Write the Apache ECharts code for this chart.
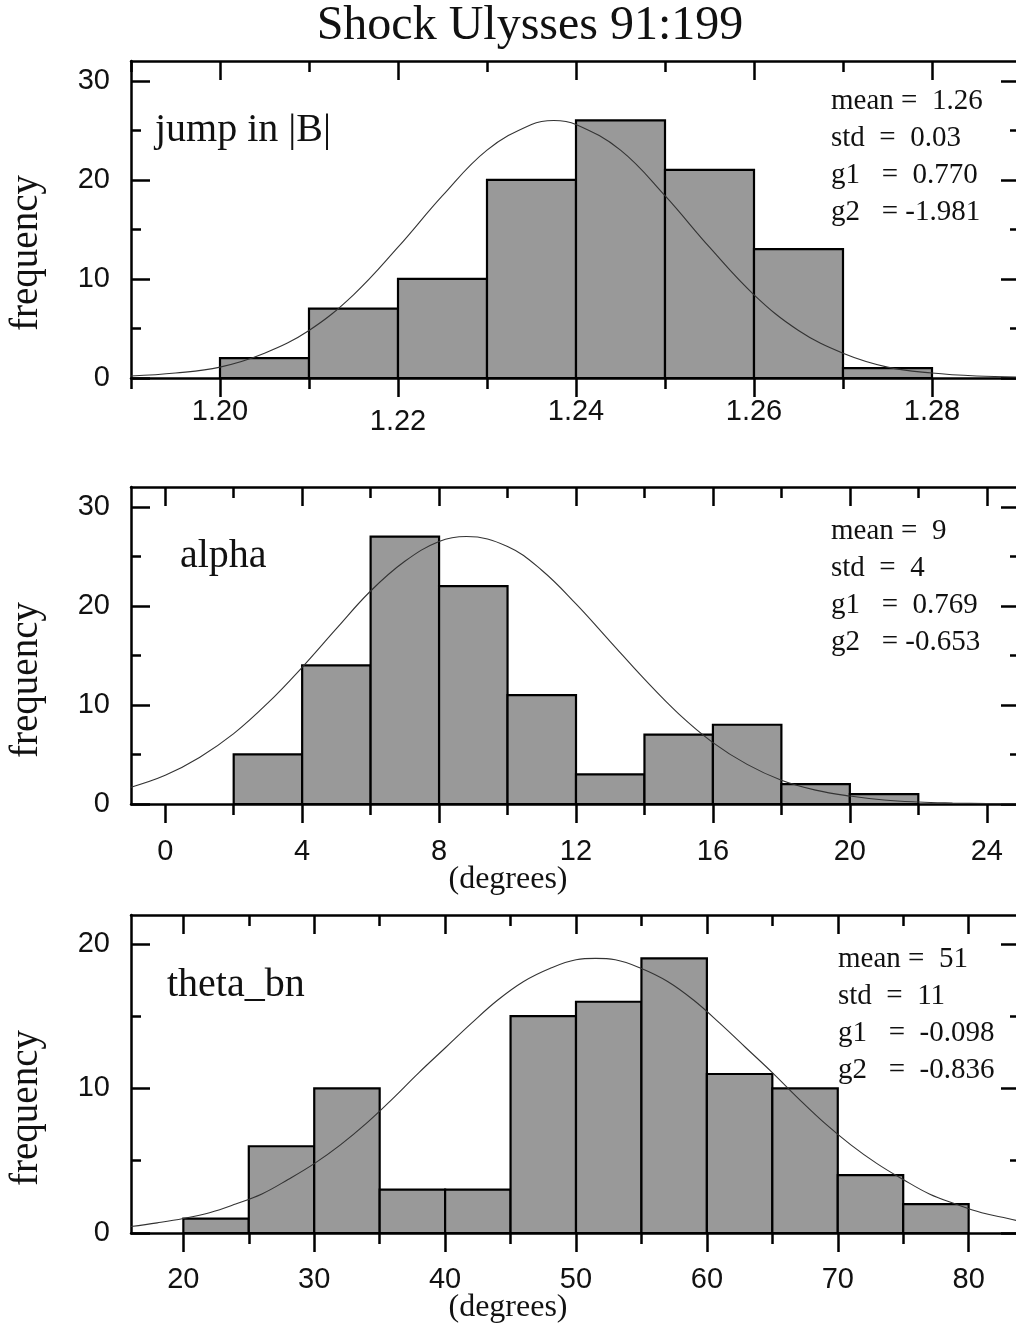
<!DOCTYPE html>
<html>
<head>
<meta charset="utf-8">
<script src="https://cdn.jsdelivr.net/npm/echarts@6/dist/echarts.min.js"></script>
<style>
  html, body { margin: 0; padding: 0; background: #fff; }
  #chart { width: 1016px; height: 1325px; }
</style>
</head>
<body>
<div id="chart"></div>
<script>
// ---- jump in |B| ----
const jumpEdges  = [1.20, 1.21, 1.22, 1.23, 1.24, 1.25, 1.26, 1.27, 1.28];
const jumpCounts = [2, 7, 10, 20, 26, 21, 13, 1];
const jumpCurveX = [1.190, 1.195, 1.200, 1.205, 1.210, 1.215, 1.220, 1.225, 1.230, 1.235, 1.2375,
                    1.240, 1.245, 1.250, 1.255, 1.260, 1.265, 1.270, 1.275, 1.280, 1.285, 1.290];
const jumpCurveY = [0.2, 0.5, 1.1, 2.5, 4.8, 8.4, 13.2, 18.4, 23.0, 25.6, 26.0,
                    25.6, 23.0, 18.4, 13.2, 8.4, 4.8, 2.5, 1.1, 0.5, 0.2, 0.1];
const jumpTicks      = [1.20, 1.22, 1.24, 1.26, 1.28];
const jumpMinorTicks = [1.19, 1.21, 1.23, 1.25, 1.27, 1.29];
const jumpStats = ['mean =  1.26', 'std  =  0.03', 'g1   =  0.770', 'g2   = -1.981'];

// ---- alpha ----
const alphaEdges  = [2, 4, 6, 8, 10, 12, 14, 16, 18, 20, 22];
const alphaCounts = [5, 14, 27, 22, 11, 3, 7, 8, 2, 1];
const alphaCurveX = [-1, 0, 1, 2, 3, 4, 5, 6, 7, 8, 8.8, 10, 11, 12, 13, 14, 15, 16,
                     17, 18, 19, 20, 21, 22, 23, 24, 25];
const alphaCurveY = [1.7, 2.9, 4.7, 7.1, 10.2, 13.8, 17.7, 21.5, 24.5, 26.5, 27.0, 26.0, 23.6,
                     20.2, 16.4, 12.6, 9.1, 6.2, 4.0, 2.4, 1.4, 0.8, 0.4, 0.2, 0.1, 0.04, 0.02];
const alphaTicks      = [0, 4, 8, 12, 16, 20, 24];
const alphaMinorTicks = [2, 6, 10, 14, 18, 22];
const alphaStats = ['mean =  9', 'std  =  4', 'g1   =  0.769', 'g2   = -0.653'];

// ---- theta_bn ----
const thetaEdges  = [20, 25, 30, 35, 40, 45, 50, 55, 60, 65, 70, 75, 80];
const thetaCounts = [1, 6, 10, 3, 3, 15, 16, 19, 11, 10, 4, 2];
const thetaCurveX = [16, 18, 20, 22, 24, 26, 28, 30, 32, 34, 36, 38, 40, 42, 44, 46, 48, 50,
                     51.5, 53, 55, 57, 59, 61, 63, 65, 67, 69, 71, 73, 75, 77, 79, 81, 83, 84];
const thetaCurveY = [0.45, 0.7, 1.0, 1.4, 2.0, 2.7, 3.7, 4.8, 6.1, 7.6, 9.3, 11.1, 12.8, 14.5,
                     16.1, 17.4, 18.3, 18.9, 19.0, 18.9, 18.3, 17.4, 16.1, 14.5, 12.8, 11.1,
                     9.3, 7.6, 6.1, 4.8, 3.7, 2.7, 2.0, 1.4, 1.0, 0.8];
const thetaTicks      = [20, 30, 40, 50, 60, 70, 80];
const thetaMinorTicks = [25, 35, 45, 55, 65, 75];
const thetaStats = ['mean =  51', 'std  =  11', 'g1   =  -0.098', 'g2   =  -0.836'];

// frequency axes
const freqTicks30 = [0, 10, 20, 30];
const freqMinor30 = [5, 15, 25];
const freqTicks20 = [0, 10, 20];
const freqMinor20 = [5, 15];

const TITLE = 'Shock Ulysses 91:199';
const YNAME = 'frequency';
const XUNIT = '(degrees)';

const SERIF = '"Liberation Serif", "Times New Roman", serif';
const SANS = '"Liberation Sans", Arial, sans-serif';
const INK = '#000';
const TEXT = '#111';
const LINE_W = 2.5;

const panels = [
  { name: 'jump in |B|', edges: jumpEdges, counts: jumpCounts, cx: jumpCurveX, cy: jumpCurveY,
    xMin: 1.19, xMax: 1.29, xTicks: jumpTicks, xMinor: jumpMinorTicks,
    yMax: 32, yTicks: freqTicks30, yMinor: freqMinor30, stats: jumpStats,
    top: 61, height: 317, labelMargin: 19,
    fmt: v => { const s = v.toFixed(2); return s === '1.22' ? '{low|' + s + '}' : s; },
    nameX: 155, nameY: 130, statsX: 831, statsY: 101, freqY: 253 },
  { name: 'alpha', edges: alphaEdges, counts: alphaCounts, cx: alphaCurveX, cy: alphaCurveY,
    xMin: -1, xMax: 25, xTicks: alphaTicks, xMinor: alphaMinorTicks,
    yMax: 32, yTicks: freqTicks30, yMinor: freqMinor30, stats: alphaStats,
    top: 487, height: 317, labelMargin: 33,
    fmt: v => String(v),
    nameX: 180, nameY: 556, statsX: 831, statsY: 531, freqY: 680, unitY: 880 },
  { name: 'theta_bn', edges: thetaEdges, counts: thetaCounts, cx: thetaCurveX, cy: thetaCurveY,
    xMin: 16, xMax: 84, xTicks: thetaTicks, xMinor: thetaMinorTicks,
    yMax: 22, yTicks: freqTicks20, yMinor: freqMinor20, stats: thetaStats,
    top: 915, height: 318, labelMargin: 32,
    fmt: v => String(v),
    nameX: 167, nameY: 985, statsX: 838, statsY: 959, freqY: 1108, unitY: 1308 }
];

const lineStyle = { color: INK, width: LINE_W };
const labelStyle = { color: TEXT, fontSize: 29, fontFamily: SANS };

const grids = [], xAxes = [], yAxes = [], series = [], graphics = [];

panels.forEach((p, g) => {
  // the frame runs a few pixels past the right edge of the canvas
  grids.push({ left: 131, width: 890, top: p.top, height: p.height,
               containLabel: false, outerBoundsMode: 'none' });

  const xb = { type: 'value', gridIndex: g, min: p.xMin, max: p.xMax, splitLine: { show: false } };
  xAxes.push(
    Object.assign({}, xb, {
      position: 'bottom',
      axisLine: { show: true, onZero: false, lineStyle },
      axisTick: { show: true, inside: false, length: 19, customValues: p.xTicks, lineStyle },
      axisLabel: Object.assign({ show: true, customValues: p.xTicks, margin: p.labelMargin,
        formatter: p.fmt,
        rich: { low: { padding: [10, 0, 0, 0], fontSize: 29, fontFamily: SANS, color: TEXT } } }, labelStyle)
    }),
    Object.assign({}, xb, {
      position: 'bottom',
      axisLine: { show: false, onZero: false },
      axisTick: { show: true, inside: false, length: 11, customValues: p.xMinor, lineStyle },
      axisLabel: { show: false }
    }),
    Object.assign({}, xb, {
      position: 'top',
      axisLine: { show: true, onZero: false, lineStyle },
      axisTick: { show: true, inside: true, length: 19, customValues: p.xTicks, lineStyle },
      axisLabel: { show: false }
    }),
    Object.assign({}, xb, {
      position: 'top',
      axisLine: { show: false, onZero: false },
      axisTick: { show: true, inside: true, length: 11, customValues: p.xMinor, lineStyle },
      axisLabel: { show: false }
    })
  );

  const yb = { type: 'value', gridIndex: g, min: 0, max: p.yMax, splitLine: { show: false } };
  yAxes.push(
    Object.assign({}, yb, {
      position: 'left',
      axisLine: { show: true, onZero: false, lineStyle },
      axisTick: { show: true, inside: true, length: 19, customValues: p.yTicks, lineStyle },
      axisLabel: Object.assign({ show: true, customValues: p.yTicks, margin: 21 }, labelStyle)
    }),
    Object.assign({}, yb, {
      position: 'left',
      axisLine: { show: false, onZero: false },
      axisTick: { show: true, inside: true, length: 10, customValues: p.yMinor, lineStyle },
      axisLabel: { show: false }
    }),
    Object.assign({}, yb, {
      position: 'right',
      axisLine: { show: true, onZero: false, lineStyle },
      axisTick: { show: true, inside: true, length: 20, customValues: p.yTicks, lineStyle },
      axisLabel: { show: false }
    }),
    Object.assign({}, yb, {
      position: 'right',
      axisLine: { show: false, onZero: false },
      axisTick: { show: true, inside: true, length: 11, customValues: p.yMinor, lineStyle },
      axisLabel: { show: false }
    })
  );

  // histogram bins: [left edge, right edge, count]
  const bins = p.counts.map((c, i) => [p.edges[i], p.edges[i + 1], c]);
  series.push({
    type: 'custom',
    xAxisIndex: 4 * g,
    yAxisIndex: 4 * g,
    z: 2,
    data: bins,
    renderItem: (params, api) => {
      const tl = api.coord([api.value(0), api.value(2)]);
      const br = api.coord([api.value(1), 0]);
      return {
        type: 'rect',
        shape: { x: tl[0], y: tl[1], width: br[0] - tl[0], height: br[1] - tl[1] },
        style: { fill: '#999999', stroke: INK, lineWidth: 2.2 }
      };
    }
  });

  // fitted normal curve
  series.push({
    type: 'line',
    xAxisIndex: 4 * g,
    yAxisIndex: 4 * g,
    z: 3,
    smooth: 0.4,
    showSymbol: false,
    data: p.cx.map((x, i) => [x, p.cy[i]]),
    lineStyle: { color: '#333', width: 1.1 }
  });

  graphics.push({
    type: 'text', x: p.nameX, y: p.nameY,
    style: { text: p.name, font: 'normal 40px ' + SERIF, fill: TEXT, align: 'left', verticalAlign: 'middle' }
  });
  p.stats.forEach((s, i) => graphics.push({
    type: 'text', x: p.statsX, y: p.statsY + i * 37,
    style: { text: s, font: 'normal 29px ' + SERIF, fill: TEXT, align: 'left', verticalAlign: 'middle' }
  }));
  graphics.push({
    type: 'text', x: 27, y: p.freqY, rotation: Math.PI / 2,
    style: { text: YNAME, font: 'normal 39px ' + SERIF, fill: TEXT, align: 'center', verticalAlign: 'middle' }
  });
  if (p.unitY) {
    graphics.push({
      type: 'text', x: 508, y: p.unitY,
      style: { text: XUNIT, font: 'normal 32px ' + SERIF, fill: TEXT, align: 'center', verticalAlign: 'middle' }
    });
  }
});

graphics.push({
  type: 'text', x: 530, y: 26,
  style: { text: TITLE, font: 'normal 48px ' + SERIF, fill: TEXT, align: 'center', verticalAlign: 'middle' }
});

const chart = echarts.init(document.getElementById('chart'), null, { renderer: 'canvas' });
chart.setOption({
  animation: false,
  backgroundColor: '#fff',
  grid: grids,
  xAxis: xAxes,
  yAxis: yAxes,
  series: series,
  graphic: graphics
});
</script>
</body>
</html>
